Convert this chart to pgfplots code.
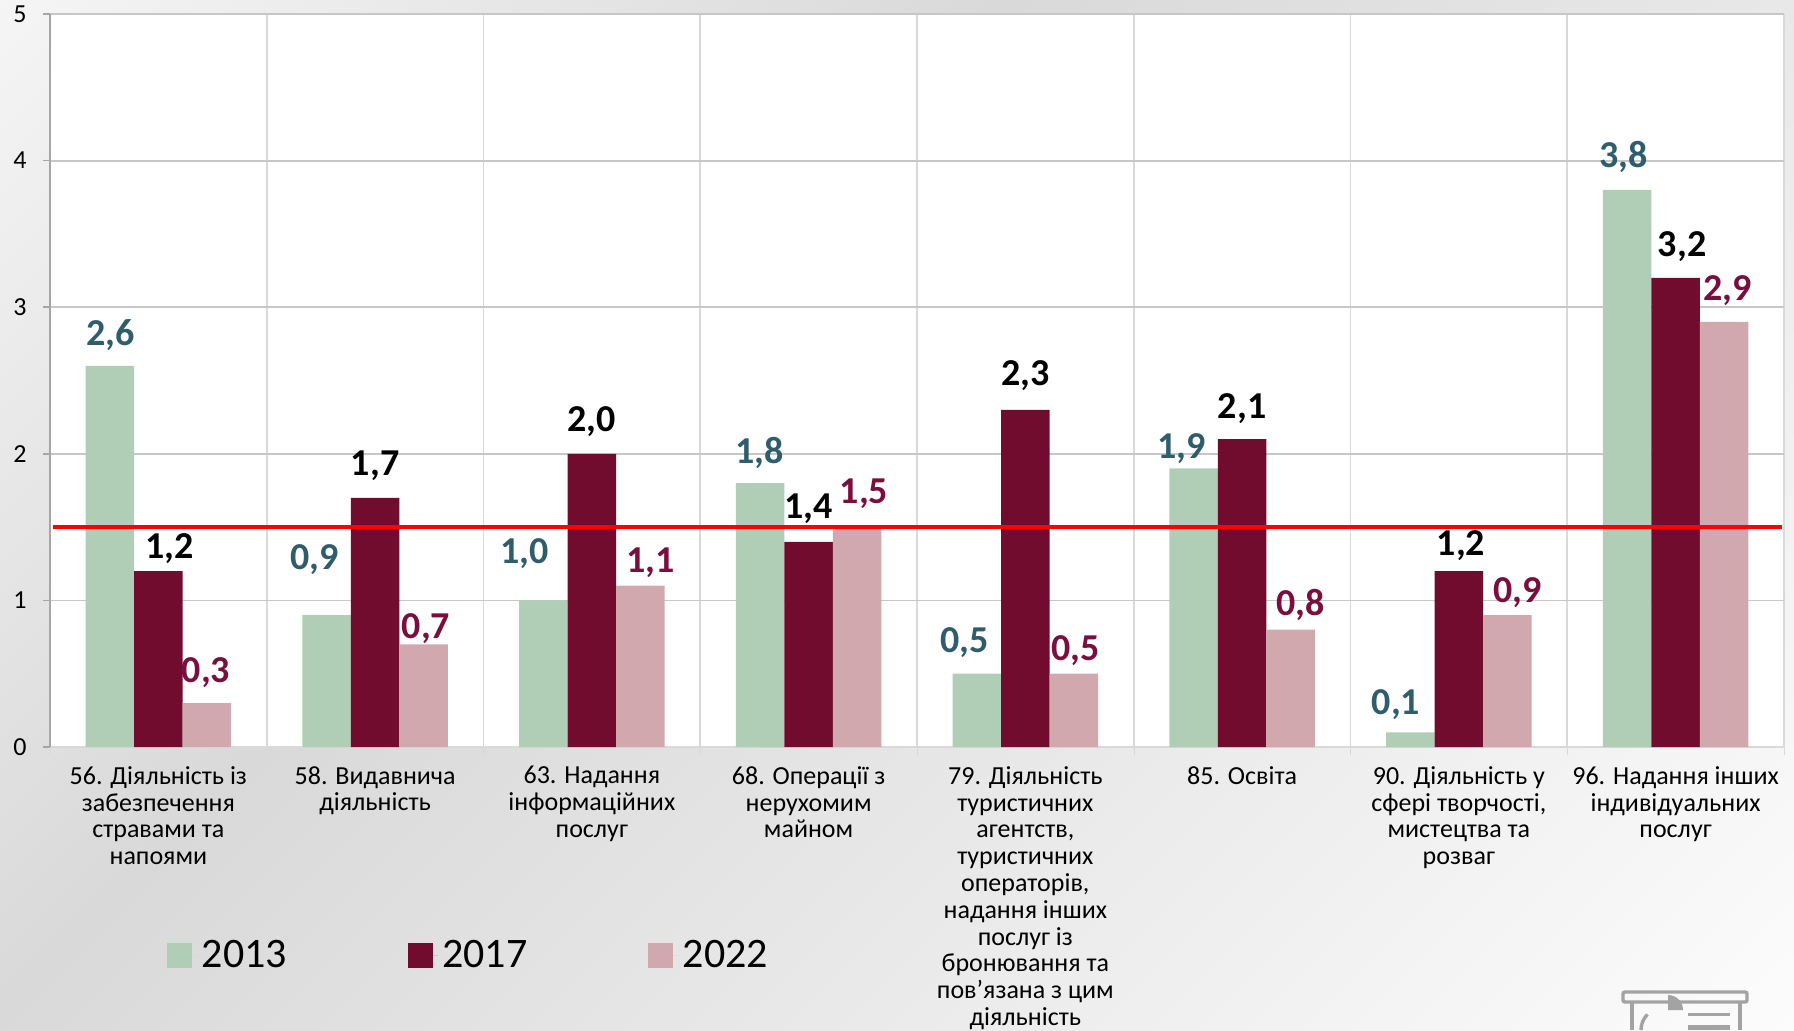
\documentclass[border=0pt]{standalone}
\usepackage{pgfplots}
\pgfplotsset{compat=1.18}
\usepackage{pgfplotstable}
\usepackage{fontspec}
\setmainfont{Carlito}
\definecolor{cA}{HTML}{B0CDB6}
\definecolor{cB}{HTML}{720C2E}
\definecolor{cC}{HTML}{D2A8AF}
\definecolor{lA}{HTML}{2F5D6B}
\definecolor{lC}{HTML}{7A0E3C}
\definecolor{ic}{HTML}{A3A3A3}
\definecolor{bgA}{HTML}{FCFCFC}
\definecolor{bgB}{HTML}{D9D9D9}
\definecolor{bgC}{HTML}{F5F5F5}
\pgfdeclareverticalshading{bgg}{100bp}{color(0bp)=(bgA); color(22bp)=(bgA); color(58bp)=(bgB); color(78bp)=(bgC); color(100bp)=(bgC)}
\pgfplotstableread{
x y
1 2.6
2 0.9
3 1.0
4 1.8
5 0.5
6 1.9
7 0.1
8 3.8
}\tA
\pgfplotstableread{
x y
1 1.2
2 1.7
3 2.0
4 1.4
5 2.3
6 2.1
7 1.2
8 3.2
}\tB
\pgfplotstableread{
x y
1 0.3
2 0.7
3 1.1
4 1.5
5 0.5
6 0.8
7 0.9
8 2.9
}\tC
\pgfplotstableread{
x y l
0.78 2.82 2,6
1.72 1.29 0,9
2.69 1.33 1,0
3.775 2.02 1,8
4.72 0.725 0,5
5.72 2.05 1,9
6.71 0.30 0,1
7.76 4.04 3,8
}\lblA
\pgfplotstableread{
x y l
1.05 1.365 1,2
2.0 1.93 1,7
3.0 2.23 2,0
4.0 1.64 1,4
5.0 2.55 2,3
6.0 2.325 2,1
7.01 1.39 1,2
8.03 3.43 3,2
}\lblB
\pgfplotstableread{
x y l
1.22 0.52 0,3
2.235 0.82 0,7
3.27 1.27 1,1
4.255 1.74 1,5
5.23 0.67 0,5
6.27 0.98 0,8
7.27 1.07 0,9
8.24 3.13 2,9
}\lblC
\begin{document}
\begin{tikzpicture}
\path[use as bounding box] (0,0) rectangle (897pt,515pt);
\clip (0,0) rectangle (897pt,515pt);
\shade[shading=bgg, shading angle=45] (0,-191pt) rectangle (897pt,706pt);
\begin{axis}[
  at={(25pt,141.5pt)}, anchor=origin,
  scale only axis, width=867pt, height=366.5pt,
  xmin=0.5, xmax=8.5, ymin=0, ymax=5,
  axis lines=left, axis line style={draw=black!35, line width=0.8pt, -},
  axis x line*=bottom,
  x axis line style={draw=black!15},
  axis background/.style={fill=white},
  ytick={0,1,2,3,4,5},
  xtick={1,2,3,4,5,6,7,8},
  minor xtick={0.5,1.5,2.5,3.5,4.5,5.5,6.5,7.5,8.5},
  xticklabels={{56. Діяльність із\\забезпечення\\стравами та\\напоями},{58. Видавнича\\діяльність},{63. Надання\\інформаційних\\послуг},{68. Операції з\\нерухомим\\майном},{79. Діяльність\\туристичних\\агентств,\\туристичних\\операторів,\\надання інших\\послуг із\\бронювання та\\пов’язана з цим\\діяльність},{85. Освіта},{90. Діяльність у\\сфері творчості,\\мистецтва та\\розваг},{96. Надання інших\\індивідуальних\\послуг}},
  xticklabel style={align=center, font=\fontsize{13}{13.4}\selectfont, inner sep=0pt, yshift=-6pt},
  yticklabel style={font=\fontsize{13}{14}\selectfont, inner sep=0pt, xshift=-8pt},
  /pgf/number format/assume math mode=true,
  major x tick style={draw=none},
  major tick length=3.5pt,
  minor tick length=4pt,
  y tick style={draw=black!35, line width=0.8pt},
  minor x tick style={draw=black!15},
  tick align=outside,
  grid=none,
  ymajorgrids=true, xminorgrids=true,
  major grid style={draw=black!22, line width=0.9pt},
  minor grid style={draw=black!15, line width=0.9pt},
  clip mode=individual,
  legend columns=3,
  legend style={at={(0.0675,-0.284)}, anchor=west, draw=none, fill=none, inner sep=0pt, outer sep=0pt,
    font=\fontsize{21}{24}\selectfont,
    /tikz/every even column/.append style={column sep=58.3pt}},
  legend cell align=left,
  legend image code/.code={\path (0pt,0pt) -- (15.4pt,0pt); \fill[#1] (0pt,-6.25pt) rectangle (12.5pt,6.25pt);},
]
\addplot[ybar, bar width=0.224, bar shift=-0.224, draw=none, fill=cA] table[x=x,y=y] {\tA};
\addlegendentry{2013}
\addplot[ybar, bar width=0.224, bar shift=0, draw=none, fill=cB] table[x=x,y=y] {\tB};
\addlegendentry{2017}
\addplot[ybar, bar width=0.224, bar shift=0.224, draw=none, fill=cC] table[x=x,y=y] {\tC};
\addlegendentry{2022}
\addplot[forget plot, red, line width=2.3pt, no markers] coordinates {(0.515,1.5) (8.49,1.5)};
\pgfplotsset{every node near coord/.append style={anchor=center, inner sep=0pt, yshift=-1pt, font=\fontsize{19}{20}\selectfont\bfseries}}
\addplot[forget plot, draw=none, mark=none, point meta=explicit symbolic, nodes near coords, every node near coord/.append style={text=lA}] table[x=x,y=y,meta=l] {\lblA};
\addplot[forget plot, draw=none, mark=none, point meta=explicit symbolic, nodes near coords, every node near coord/.append style={text=black}] table[x=x,y=y,meta=l] {\lblB};
\addplot[forget plot, draw=none, mark=none, point meta=explicit symbolic, nodes near coords, every node near coord/.append style={text=lC}] table[x=x,y=y,meta=l] {\lblC};
\end{axis}
% small slide icon in the corner
\begin{scope}[draw=ic,line width=1.7pt]
\draw[rounded corners=1pt] (811.5pt,14pt) rectangle (873.5pt,19pt);
\draw (816pt,14pt) -- (816pt,0pt);
\draw (870pt,14pt) -- (870pt,0pt);
\draw (820.5pt,0pt) arc (180:135:11pt);
\fill[ic] (834pt,17.5pt) -- (834pt,10pt) -- (841.5pt,10pt) arc (0:90:7.5pt) -- cycle;
\draw[line width=1.5pt] (844pt,8pt) -- (865pt,8pt) ;
\fill[ic] (844pt,0pt) rectangle (865pt,2.5pt);
\end{scope}
\end{tikzpicture}
\end{document}
